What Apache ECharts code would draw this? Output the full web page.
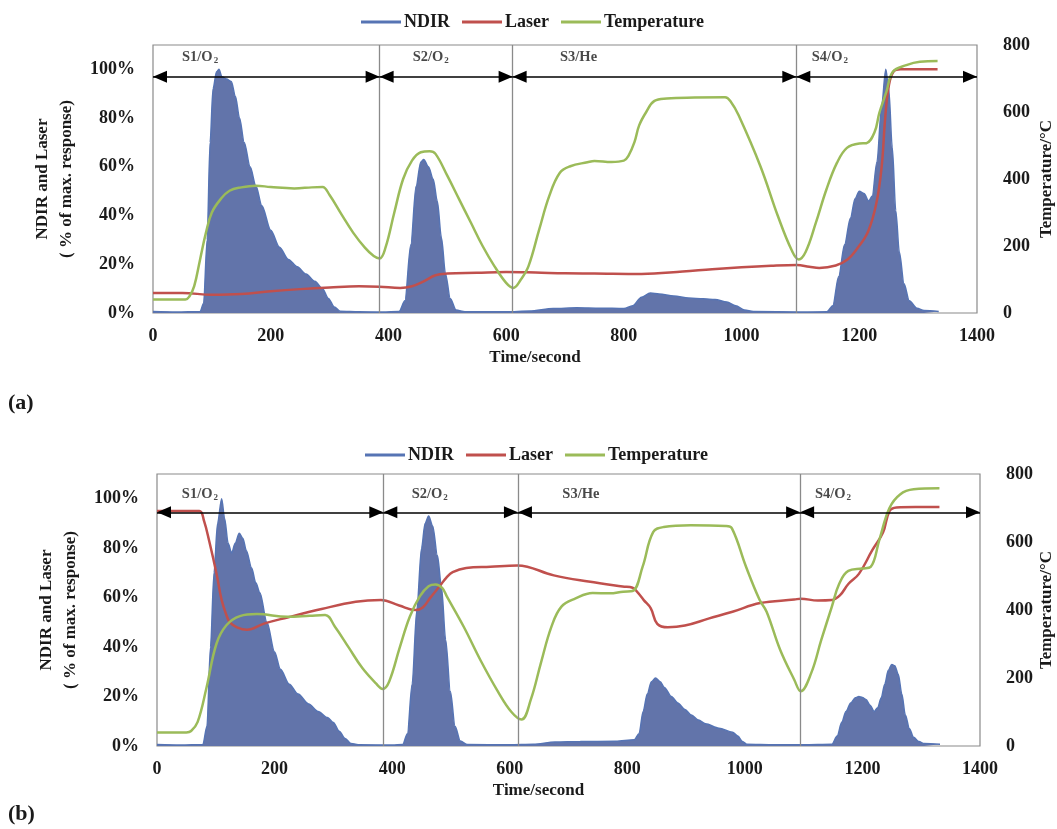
<!DOCTYPE html>
<html><head><meta charset="utf-8">
<script src="https://cdn.jsdelivr.net/npm/echarts@6/dist/echarts.min.js"></script>
<style>html,body{margin:0;padding:0;background:#fff}#c{width:1057px;height:829px}</style>
</head><body><div id="c"></div>
<script>
// ---------- DATA ----------
const xTicks = [0, 200, 400, 600, 800, 1000, 1200, 1400];
const seriesNames = ['NDIR', 'Laser', 'Temperature'];
const segLabels = ['S1/O_2', 'S2/O_2', 'S3/He', 'S4/O_2'];

// Panel (a)
const ndirA = [[0,0.6],[40,0.4],[80,0.6],[86,4],[92,30],[97,70],[102,92],[108,99],[112,100],[117,97],[125,96],[133,95],[140,89],[147,80],[155,70],[165,60],[175,52],[185,44],[200,34],[215,27],[230,22],[245,19],[260,16],[275,13],[288,10],[298,6],[308,2.5],[318,0.7],[350,0.5],[390,0.4],[418,0.6],[428,5],[438,28],[447,52],[455,62],[460,63],[468,60],[476,55],[483,46],[490,31],[497,16],[505,6],[515,1.2],[530,0.5],[600,0.5],[640,0.8],[680,1.8],[720,2.2],[760,2],[800,1.8],[815,3],[830,6.5],[845,8.2],[860,7.8],[885,7],[910,6.2],[935,5.8],[955,5.5],[975,4.5],[990,3],[1005,1.2],[1020,0.6],[1100,0.4],[1145,0.5],[1155,3],[1165,15],[1175,28],[1185,39],[1193,47],[1200,50],[1208,49],[1216,46],[1222,48],[1230,62],[1238,85],[1245,100],[1250,92],[1256,68],[1262,42],[1268,25],[1276,12],[1285,5],[1298,2],[1310,1],[1335,0.6]];
const laserA = [[0,8.2],[50,8.2],[100,7.5],[150,7.8],[200,8.9],[250,9.8],[300,10.5],[350,11],[385,10.8],[420,10.3],[440,11],[460,13],[480,15.5],[500,16.2],[550,16.5],[600,16.8],[650,16.6],[700,16.3],[750,16.2],[830,16],[900,17],[950,18],[1000,18.8],[1050,19.4],[1094,19.7],[1115,19],[1132,18.5],[1160,19.5],[1180,22],[1195,26],[1215,33.5],[1229,45],[1238,60],[1244,80],[1250,93],[1258,99],[1270,100],[1300,100],[1333,100]];
const tempA = [[0,40],[55,40],[62,50],[70,80],[80,160],[90,240],[100,300],[115,340],[130,365],[150,375],[175,380],[200,376],[240,372],[270,375],[288,376],[300,352],[320,295],[340,240],[360,195],[375,170],[385,163],[395,195],[410,300],[425,400],[440,455],[455,480],[470,483],[480,475],[500,410],[520,340],[540,270],[560,200],[580,140],[600,90],[612,75],[625,100],[638,140],[656,248],[673,348],[691,418],[709,438],[738,450],[750,454],[779,451],[800,455],[808,470],[818,510],[826,560],[838,600],[852,633],[873,640],[920,643],[972,644],[982,630],[995,590],[1032,438],[1062,288],[1085,188],[1097,160],[1109,183],[1126,268],[1144,368],[1162,448],[1179,493],[1200,506],[1212,507],[1226,540],[1234,597],[1246,660],[1257,720],[1280,740],[1303,750],[1333,752]];
const dividersA = [385, 611, 1093];
const arrowLevelA = 97;
const segLabelXA = [80, 472, 723, 1150];
const segLabelLevelA = 105;

// Panel (b)
const ndirB = [[0,0.6],[40,0.4],[78,0.6],[85,8],[91,40],[97,70],[103,90],[110,100],[115,92],[121,82],[127,78],[133,82],[140,86],[146,84],[152,79],[161,72],[168,66],[175,62],[187,50],[200,38],[210,31],[225,25],[240,21],[258,17],[274,14],[290,11.5],[300,9.5],[310,6],[320,3],[330,1],[345,0.5],[400,0.4],[418,0.6],[426,5],[434,25],[442,55],[450,80],[456,90],[462,93],[469,89],[477,77],[484,64],[491,43],[499,22],[507,8],[516,2],[528,0.6],[600,0.5],[640,0.7],[677,1.6],[720,1.8],[780,1.9],[812,2.5],[820,5],[827,14],[834,21],[841,26],[848,27.5],[856,26],[863,23.7],[875,20],[886,17.4],[898,14.8],[909,12.5],[921,10.5],[933,9],[956,7.2],[979,5.6],[988,4],[996,1.8],[1003,0.7],[1050,0.5],[1100,0.5],[1148,0.7],[1157,4],[1165,9.7],[1172,14],[1180,17.4],[1188,19.5],[1194,20],[1200,19.6],[1206,18.8],[1213,16.5],[1220,14],[1226,15.5],[1232,19.5],[1238,25],[1244,30.6],[1250,33],[1255,32.5],[1261,29],[1267,21],[1273,12.5],[1280,7],[1287,3.5],[1296,1.8],[1305,1],[1332,0.7]];
const laserB = [[0,95],[40,95],[72,95],[80,91],[89,82.7],[101,70],[110,59],[118,53],[124,50],[136,48],[153,47],[182,49.5],[222,52],[280,55.4],[338,58.3],[381,59],[412,56.8],[440,55],[452,56],[465,60],[482,65],[492,68],[503,70.3],[526,72],[567,72.5],[613,73],[675,69],[734,66.5],[792,64.5],[809,64],[818,62],[828,59],[840,55.7],[851,49.4],[869,48],[898,48.7],[938,51.5],[979,54.3],[1026,57.8],[1084,59.2],[1095,59.6],[1124,58.8],[1148,59],[1162,61],[1176,65.5],[1194,69.6],[1217,79.3],[1235,86.3],[1246,95],[1258,96.5],[1290,96.7],[1331,96.7]];
const tempB = [[0,40],[50,40],[58,44],[69,70],[84,170],[101,300],[118,355],[141,382],[170,388],[222,380],[260,383],[286,385],[303,350],[326,290],[349,230],[372,185],[384,168],[395,190],[413,290],[430,380],[447,440],[462,470],[474,475],[485,465],[493,440],[522,350],[551,250],[580,160],[603,100],[620,78],[636,137],[653,244],[671,351],[688,410],[712,434],[741,450],[770,449],[793,454],[809,456],[826,527],[844,629],[862,644],[908,649],[967,647],[978,640],[1002,527],[1025,430],[1037,395],[1060,283],[1084,195],[1095,161],[1113,215],[1130,312],[1148,410],[1160,475],[1176,515],[1200,522],[1214,527],[1229,608],[1246,700],[1264,740],[1287,755],[1331,758]];
const dividersB = [385, 614, 1094];
const arrowLevelB = 94.5;
const segLabelXB = [73, 464, 721, 1150];
const segLabelLevelB = 102;

// ---------- STYLE ----------
const FONT = 'Liberation Serif';
const C_NDIR_LINE = '#5674B4', C_NDIR_FILL = '#6274AA', C_LASER = '#C0504D', C_TEMP = '#9BBB59';
const txt = {fontFamily: FONT, fontWeight: 'bold', color: '#1a1a1a'};

function subFmt(s) {
  const p = s.split('_');
  return p.length > 1 ? '{n|' + p[0] + '}{s|' + p[1] + '}' : '{n|' + p[0] + '}';
}

const grids = [
  {left: 153, right: 80, top: 45, height: 268},
  {left: 157, right: 77, top: 474, height: 272}
];
const rightNameGaps = [61, 58];

const xAxes = [], yAxes = [], series = [];
const panels = [
  {ndir: ndirA, laser: laserA, temp: tempA, div: dividersA, arrow: arrowLevelA, lx: segLabelXA, ly: segLabelLevelA},
  {ndir: ndirB, laser: laserB, temp: tempB, div: dividersB, arrow: arrowLevelB, lx: segLabelXB, ly: segLabelLevelB}
];

panels.forEach((p, i) => {
  grids[i].show = true;
  grids[i].containLabel = false;
  grids[i].outerBoundsMode = 'none';
  grids[i].borderColor = '#8a8a8a';
  grids[i].borderWidth = 1.2;
  grids[i].backgroundColor = 'transparent';
  xAxes.push({
    type: 'value', gridIndex: i, min: xTicks[0], max: xTicks[xTicks.length - 1],
    interval: xTicks[1] - xTicks[0],
    axisLine: {show: false}, axisTick: {show: false}, splitLine: {show: false},
    axisLabel: Object.assign({fontSize: 18, margin: 14, formatter: v => String(v)}, txt),
    name: 'Time/second', nameLocation: 'middle', nameGap: 36, nameMoveOverlap: false,
    nameTextStyle: Object.assign({fontSize: 17, padding: [0, 60, 0, 0]}, txt)
  });
  yAxes.push({
    type: 'value', gridIndex: i, position: 'left', min: 0, max: 110, interval: 20,
    axisLine: {show: false}, axisTick: {show: false}, splitLine: {show: false},
    axisLabel: Object.assign({fontSize: 18, margin: 18, formatter: '{value}%', showMaxLabel: false}, txt),
    name: 'NDIR and Laser\n( % of max. response)', nameLocation: 'middle', nameRotate: 90, nameGap: 68,
    nameTextStyle: Object.assign({fontSize: 17, lineHeight: 24}, txt)
  });
  yAxes.push({
    type: 'value', gridIndex: i, position: 'right', min: 0, max: 800, interval: 200,
    axisLine: {show: false}, axisTick: {show: false}, splitLine: {show: false},
    axisLabel: Object.assign({fontSize: 18, margin: 26}, txt),
    name: 'Temperature/°C', nameLocation: 'middle', nameRotate: 90, nameGap: rightNameGaps[i],
    nameMoveOverlap: false,
    nameTextStyle: Object.assign({fontSize: 17}, txt)
  });
  const yl = i * 2, yr = i * 2 + 1;
  series.push({
    name: 'NDIR', type: 'line', xAxisIndex: i, yAxisIndex: yl, data: p.ndir,
    showSymbol: false, smooth: 0.3, smoothMonotone: 'x',
    lineStyle: {color: C_NDIR_LINE, width: 1.5}, itemStyle: {color: C_NDIR_LINE},
    areaStyle: {color: C_NDIR_FILL, opacity: 1}, z: 2
  });
  series.push({
    name: 'Laser', type: 'line', xAxisIndex: i, yAxisIndex: yl, data: p.laser,
    showSymbol: false, smooth: 0.4,
    lineStyle: {color: C_LASER, width: 2.5}, itemStyle: {color: C_LASER}, z: 3
  });
  series.push({
    name: 'Temperature', type: 'line', xAxisIndex: i, yAxisIndex: yr, data: p.temp,
    showSymbol: false, smooth: 0.4,
    lineStyle: {color: C_TEMP, width: 2.5}, itemStyle: {color: C_TEMP}, z: 4
  });
  // section dividers
  series.push({
    name: 'dividers', type: 'line', xAxisIndex: i, yAxisIndex: yl, data: [], z: 5,
    markLine: {
      silent: true, symbol: ['none', 'none'], label: {show: false},
      lineStyle: {color: '#8a8a8a', width: 1.3, type: 'solid'},
      data: p.div.map(d => ({xAxis: d}))
    }
  });
  // section arrows
  const bounds = [xTicks[0]].concat(p.div, [xTicks[xTicks.length - 1]]);
  const segs = [];
  for (let k = 0; k < bounds.length - 1; k++) segs.push([{coord: [bounds[k], p.arrow]}, {coord: [bounds[k + 1], p.arrow]}]);
  series.push({
    name: 'arrows', type: 'line', xAxisIndex: i, yAxisIndex: yl, data: [], z: 6,
    markLine: {
      silent: true, symbol: ['triangle', 'triangle'], symbolSize: [12, 14],
      symbolOffset: [[0, 7], [0, 7]],
      label: {show: false},
      lineStyle: {color: '#000', width: 1.5, type: 'solid'},
      itemStyle: {color: '#000'},
      data: segs
    }
  });
  // section labels
  series.push({
    name: 'sections', type: 'scatter', xAxisIndex: i, yAxisIndex: yl, symbolSize: 0, silent: true, z: 7,
    data: p.lx.map((x, k) => ({value: [x, p.ly], name: segLabels[k]})),
    label: {
      show: true, position: 'inside',
      formatter: d => subFmt(d.name),
      rich: {
        n: {fontFamily: FONT, fontWeight: 'bold', fontSize: 14.5, color: '#1a1a1a', lineHeight: 16},
        s: {fontFamily: FONT, fontWeight: 'bold', fontSize: 9, color: '#1a1a1a', lineHeight: 16, padding: [7, 0, 0, 1]}
      }
    }
  });
});

const legendCommon = {
  data: seriesNames, icon: 'rect', itemWidth: 40, itemHeight: 3, itemGap: 12,
  textStyle: Object.assign({fontSize: 18, padding: [0, 0, 0, -2]}, txt), selectedMode: false
};

const option = {
  animation: false,
  backgroundColor: '#fff',
  grid: grids,
  xAxis: xAxes,
  yAxis: yAxes,
  legend: [
    Object.assign({left: 356, top: 8}, legendCommon),
    Object.assign({left: 360, top: 441}, legendCommon)
  ],
  graphic: [
    {type: 'text', left: 8, top: 392, style: {text: '(a)', font: 'bold 22px "Liberation Serif"', fill: '#1a1a1a'}},
    {type: 'text', left: 8, top: 803, style: {text: '(b)', font: 'bold 22px "Liberation Serif"', fill: '#1a1a1a'}}
  ],
  series: series
};

const chart = echarts.init(document.getElementById('c'), null, {renderer: 'canvas'});
chart.setOption(option);
</script>
</body></html>
